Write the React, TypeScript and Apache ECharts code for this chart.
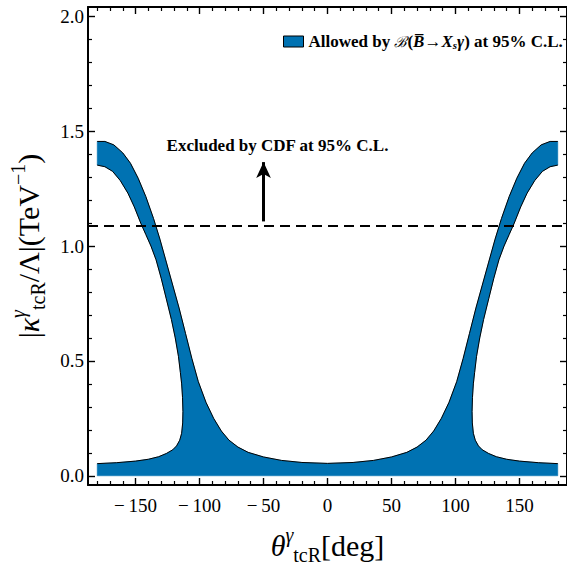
import React, { useEffect, useRef } from "react";
import * as echarts from "echarts";

// ---- axis ranges & ticks ----
const X_MIN = -187.2;
const X_MAX = 187.2;
const Y_MIN = -0.04;
const Y_MAX = 2.04;
const xMajorTicks = [-150, -100, -50, 0, 50, 100, 150];
const xMinorTicks = [-180, -170, -160, -140, -130, -120, -110, -90, -80, -70, -60, -40, -30, -20, -10,
  10, 20, 30, 40, 60, 70, 80, 90, 110, 120, 130, 140, 160, 170, 180];
const yMajorTicks = [0, 0.5, 1, 1.5, 2];
const yMinorTicks = [0.1, 0.2, 0.3, 0.4, 0.6, 0.7, 0.8, 0.9, 1.1, 1.2, 1.3, 1.4, 1.6, 1.7, 1.8, 1.9];

// ---- allowed region boundary (left half, region is symmetric in theta) ----
// outer boundary: bottom band top -> spike outer side -> lower edge of arm
const outerTheta = [-180, -165, -150, -140, -132, -126, -121, -118, -115.5, -114, -113.2, -113, -113.3, -114,
  -115, -116.5, -119, -122, -126, -130, -134, -138, -142, -146, -151, -156, -162, -168, -174, -180];
const outerKappa = [0.053, 0.057, 0.064, 0.072, 0.083, 0.097, 0.113, 0.13, 0.155, 0.185, 0.23, 0.28, 0.34, 0.40,
  0.45, 0.52, 0.60, 0.68, 0.77, 0.86, 0.94, 1.00, 1.05, 1.10, 1.17, 1.23, 1.285, 1.325, 1.345, 1.352];
// inner boundary: upper edge of arm -> spike inner side -> band top to theta = 0
const innerTheta = [-180, -174, -167, -160, -154, -148, -142, -136, -131, -126, -121, -116, -111, -106, -101,
  -95, -89, -83, -77, -70, -62, -50, -36, -20, 0];
const innerKappa = [1.455, 1.455, 1.44, 1.405, 1.36, 1.295, 1.215, 1.12, 1.03, 0.93, 0.83, 0.73, 0.62, 0.51, 0.41,
  0.32, 0.25, 0.195, 0.155, 0.125, 0.102, 0.082, 0.067, 0.058, 0.054];

const cdfLimit = 1.09;
const arrowTheta = -50;
const arrowFrom = 1.107;
const arrowTo = 1.365;

const BLUE = "#0072B2";
const SERIF = '"Liberation Serif", "Times New Roman", serif';

export default function App() {
  const ref = useRef<HTMLDivElement>(null);

  useEffect(() => {
    if (!ref.current) return;
    const chart = echarts.init(ref.current, undefined, { renderer: "svg" });

    const leftOuter = outerTheta.map((t, i) => [t, outerKappa[i]]);
    const leftInner = innerTheta.map((t, i) => [t, innerKappa[i]]);
    const rightInner = leftInner.slice(0, -1).reverse().map(([t, k]) => [-t, k]);
    const rightOuter = leftOuter.slice().reverse().map(([t, k]) => [-t, k]);
    const fullInner = [...leftInner, ...rightInner];
    const polygon = [
      [outerTheta[0], 0],
      ...leftOuter,
      ...leftInner,
      ...rightInner,
      ...rightOuter,
      [-outerTheta[0], 0],
    ];

    const tickLabel = { fontFamily: SERIF, fontSize: 19, color: "#000" };
    const axisLineStyle = { show: true, onZero: false, lineStyle: { color: "#000", width: 2 } };
    const majorTick = (vals: number[]) => ({ show: true, inside: true, length: 7, customValues: vals, lineStyle: { color: "#000", width: 1.4 } });
    const minorTick = (vals: number[]) => ({ show: true, inside: true, length: 4, customValues: vals, lineStyle: { color: "#000", width: 1.2 } });

    const nameRich = {
      n: { fontFamily: SERIF, fontSize: 30, lineHeight: 40, color: "#000" },
      i: { fontFamily: SERIF, fontSize: 30, fontStyle: "italic", lineHeight: 40, color: "#000" },
      sup: { fontFamily: SERIF, fontSize: 20, fontStyle: "italic", verticalAlign: "top", lineHeight: 22, color: "#000" },
      supn: { fontFamily: SERIF, fontSize: 20, verticalAlign: "top", lineHeight: 22, color: "#000" },
      sub: { fontFamily: SERIF, fontSize: 20, verticalAlign: "bottom", lineHeight: 20, color: "#000" },
    };

    const baseX = { type: "value", min: X_MIN, max: X_MAX, splitLine: { show: false } };
    const baseY = { type: "value", min: Y_MIN, max: Y_MAX, splitLine: { show: false } };

    chart.setOption({
      animation: false,
      grid: { left: 86.6, top: 7, width: 486.8, height: 484.6, containLabel: false },
      xAxis: [
        {
          ...baseX,
          position: "bottom",
          axisLine: axisLineStyle,
          axisTick: majorTick(xMajorTicks),
          axisLabel: {
            ...tickLabel,
            margin: 11,
            customValues: xMajorTicks,
            formatter: (v: number) => (v < 0 ? "\u2212\u2009" + Math.abs(v) : String(v)),
          },
          name: "{i|θ}{sup|γ}{sub|tcR}{n|[deg]}",
          nameLocation: "middle",
          nameGap: 40,
          nameTextStyle: { rich: nameRich },
        },
        { ...baseX, position: "bottom", axisLine: { show: false, onZero: false }, axisTick: minorTick(xMinorTicks), axisLabel: { show: false } },
        { ...baseX, position: "top", axisLine: axisLineStyle, axisTick: majorTick(xMajorTicks), axisLabel: { show: false } },
        { ...baseX, position: "top", axisLine: { show: false, onZero: false }, axisTick: minorTick(xMinorTicks), axisLabel: { show: false } },
      ],
      yAxis: [
        {
          ...baseY,
          position: "left",
          axisLine: axisLineStyle,
          axisTick: majorTick(yMajorTicks),
          axisLabel: { ...tickLabel, margin: 4, customValues: yMajorTicks, formatter: (v: number) => v.toFixed(1) },
          name: "{n||}{i|κ}{sup|γ}{sub|tcR}{n|/Λ|(TeV}{supn|−1}{n|)}",
          nameLocation: "middle",
          nameRotate: 90,
          nameGap: 40,
          nameTextStyle: { rich: nameRich },
        },
        { ...baseY, position: "left", axisLine: { show: false, onZero: false }, axisTick: minorTick(yMinorTicks), axisLabel: { show: false } },
        { ...baseY, position: "right", axisLine: axisLineStyle, axisTick: majorTick(yMajorTicks), axisLabel: { show: false } },
        { ...baseY, position: "right", axisLine: { show: false, onZero: false }, axisTick: minorTick(yMinorTicks), axisLabel: { show: false } },
      ],
      legend: {
        left: 278,
        top: 28,
        padding: 5,
        itemWidth: 20,
        itemHeight: 11,
        selectedMode: false,
        data: [{ name: "allowed", icon: "rect", itemStyle: { color: BLUE, borderColor: "#000", borderWidth: 1 } }],
        formatter: () => "{b|Allowed by }{sc|ℬ}{b|(}{bi|B\u0305}{b|→}{bi|X}{sub|s}{bi|γ}{b|) at 95% C.L.}",
        textStyle: {
          rich: {
            b: { fontFamily: SERIF, fontSize: 17, fontWeight: "bold", color: "#000", lineHeight: 18 },
            sc: { fontFamily: '"DejaVu Serif", serif', fontSize: 15, fontStyle: "italic", color: "#000", lineHeight: 18 },
            bi: { fontFamily: SERIF, fontSize: 17, fontWeight: "bold", fontStyle: "italic", color: "#000", lineHeight: 18 },
            sub: { fontFamily: SERIF, fontSize: 11, fontStyle: "italic", fontWeight: "bold", color: "#000", verticalAlign: "bottom", lineHeight: 12 },
          },
        },
      },
      graphic: [
        {
          type: "text",
          x: 277.5,
          y: 145,
          style: {
            text: "Excluded by CDF at 95% C.L.",
            fontFamily: SERIF,
            fontSize: 17,
            fontWeight: "bold",
            fill: "#000",
            align: "center",
            verticalAlign: "middle",
          },
        },
      ],
      series: [
        {
          name: "allowed",
          type: "custom",
          xAxisIndex: 0,
          yAxisIndex: 0,
          itemStyle: { color: BLUE },
          data: polygon,
          renderItem: (params: any, api: any) => {
            if (params.dataIndex !== 0) return null;
            const pts = polygon.map((p) => api.coord(p));
            return { type: "polygon", shape: { points: pts }, style: { fill: BLUE, stroke: BLUE, lineWidth: 0.5 } };
          },
          silent: true,
          z: 2,
        },
        {
          name: "outerLeft",
          type: "line",
          data: leftOuter,
          showSymbol: false,
          symbol: "none",
          lineStyle: { color: "#000", width: 1 },
          silent: true,
          z: 3,
          markLine: {
            silent: true,
            symbol: ["none", "none"],
            label: { show: false },
            data: [
              { yAxis: cdfLimit, lineStyle: { type: [10, 6], width: 2, color: "#000" } },
              [
                { coord: [arrowTheta, arrowFrom], symbol: "none", lineStyle: { type: "solid", width: 3, color: "#000" } },
                { coord: [arrowTheta, arrowTo], symbol: "arrow", symbolSize: [11, 16] },
              ],
            ],
          },
        },
        { name: "inner", type: "line", data: fullInner, showSymbol: false, symbol: "none", lineStyle: { color: "#000", width: 1 }, silent: true, z: 3 },
        { name: "outerRight", type: "line", data: rightOuter, showSymbol: false, symbol: "none", lineStyle: { color: "#000", width: 1 }, silent: true, z: 3 },
      ],
    });

    return () => chart.dispose();
  }, []);

  return <div ref={ref} style={{ position: "absolute", left: 0, top: 0, width: 567, height: 570, background: "#fff" }} />;
}
